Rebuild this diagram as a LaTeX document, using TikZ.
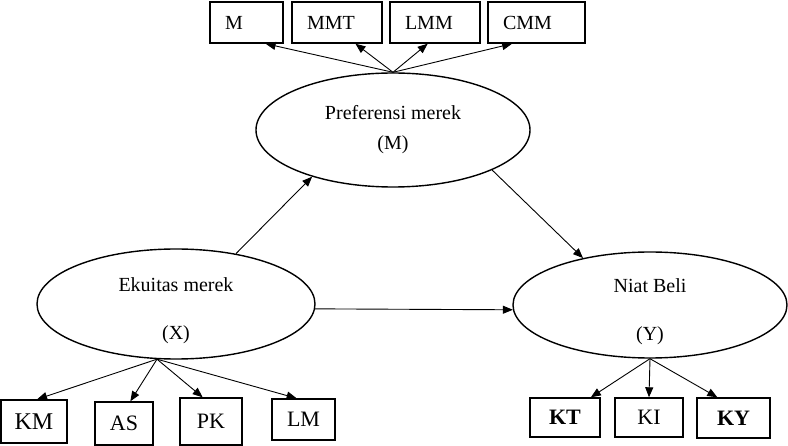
\documentclass[tikz,border=0pt]{standalone}
\usepackage{fontspec}
\setmainfont{Liberation Serif}
\usetikzlibrary{shapes, arrows.meta, calc}

\newcommand{\lowtext}[1]{\raisebox{-7pt}[\height][\depth]{#1}}

\begin{document}
\begin{tikzpicture}%
	[x=1pt, y=-1pt,
	latent/.style={ellipse, draw=black, line width=1.4pt, inner sep=0pt, align=center, font=\fontsize{20}{30}\selectfont},
	indtop/.style={rectangle, draw=black, line width=1.4pt, inner xsep=15pt, inner ysep=0pt, minimum height=41pt, align=left, font=\fontsize{20}{24}\selectfont},
	indbot/.style={rectangle, draw=black, line width=1.4pt, inner sep=0pt, align=center, font=\fontsize{22}{26}\selectfont},
	link/.style={draw=black, line width=0.9pt, -{Triangle[length=10pt,width=8pt]}}]
%
\useasboundingbox (0,0) rectangle (788,446);
%
%% Latent variables
%%
\node[latent, minimum width=274pt, minimum height=114pt] (Pref) at (393,130) {Preferensi merek\\(M)};
\node[latent, minimum width=278pt, minimum height=110pt] (Ekuitas) at (176,304) {\lowtext{Ekuitas merek}\\[18pt]\lowtext{(X)}};
\node[latent, minimum width=274pt, minimum height=106pt] (Niat) at (650,305) {\lowtext{Niat Beli}\\[18pt]\lowtext{(Y)}};
%%
%% Indicators of (M)
%%
\node[indtop, text width=43pt] (boxM) at (246.5,22.5) {M};
\node[indtop, text width=60pt] (boxMMT) at (337,22.5) {MMT};
\node[indtop, text width=60pt] (boxLMM) at (435,22.5) {LMM};
\node[indtop, text width=67pt] (boxCMM) at (536.5,22.5) {CMM};
%%
%% Indicators of (X)
%%
\node[indbot, minimum width=66pt, minimum height=43pt, font=\fontsize{24}{28}\selectfont] (boxKM) at (34,421.5) {KM};
\node[indbot, minimum width=58pt, minimum height=43pt] (boxAS) at (124,423.5) {AS};
\node[indbot, minimum width=62pt, minimum height=47pt] (boxPK) at (211,421.5) {PK};
\node[indbot, minimum width=63pt, minimum height=41pt] (boxLM) at (303.5,419.5) {LM};
%%
%% Indicators of (Y)
%%
\node[indbot, minimum width=70pt, minimum height=39pt] (boxKT) at (565,417.5) {\textbf{KT}};
\node[indbot, minimum width=68pt, minimum height=39pt] (boxKI) at (649,417.5) {KI};
\node[indbot, minimum width=73pt, minimum height=40pt] (boxKY) at (733.5,418) {\textbf{KY}};
%%
%% Structural paths
%%
\draw[link] (Ekuitas.40) -- (Pref.210);
\draw[link] (Pref.-22) -- (Niat.145);
\draw[link] (Ekuitas.-2.5) -- (Niat.182);
%%
%% Measurement paths
%%
\draw[link] (Pref.north) -- (boxM.-48);
\draw[link] (Pref.north) -- (boxMMT.-49);
\draw[link] (Pref.north) -- (boxLMM.-109);
\draw[link] (Pref.north) -- (boxCMM.-139);
\draw[link] (Ekuitas.251) -- (boxKM.82);
\draw[link] (Ekuitas.251) -- (boxAS.74);
\draw[link] (Ekuitas.251) -- (boxPK.109);
\draw[link] (Ekuitas.251) -- (boxLM.108);
\draw[link] (Niat.south) -- (boxKT.38);
\draw[link] (Niat.south) -- (boxKI.north);
\draw[link] (Niat.south) -- (boxKY.128);
%%
\end{tikzpicture}
\end{document}
